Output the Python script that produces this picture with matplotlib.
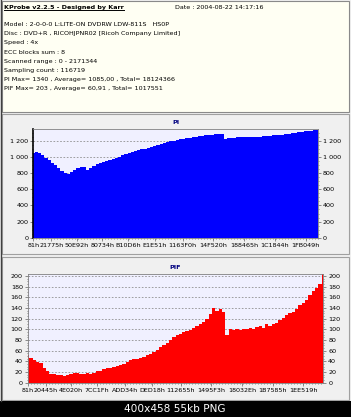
import matplotlib
matplotlib.use('Agg')
import matplotlib.pyplot as plt
import numpy as np
from matplotlib.patches import Rectangle
from matplotlib.ticker import MultipleLocator, AutoMinorLocator, FuncFormatter

# header info
title = "KProbe v2.2.5 - Designed by Karr"
date = "Date : 2004-08-22 14:17:16"
info_lines = [
    "Model : 2-0-0-0 L:LITE-ON DVDRW LDW-811S   HS0P",
    "Disc : DVD+R , RICOHJPNR02 [Ricoh Company Limited]",
    "Speed : 4x",
    "ECC blocks sum : 8",
    "Scanned range : 0 - 2171344",
    "Sampling count : 116719",
    "PI Max= 1340 , Average= 1085,00 , Total= 18124366",
    "PIF Max= 203 , Average= 60,91 , Total= 1017551",
]
scan_end = 2171344

# PI values (sampled along the scan)
pi = [1055, 1060, 1045, 1020, 985, 960, 925, 900, 865, 830,
      800, 790, 815, 840, 860, 875, 880, 840, 870, 895,
      915, 925, 940, 955, 965, 980, 995, 1005, 1020, 1035,
      1050, 1060, 1075, 1085, 1095, 1100, 1110, 1125, 1135, 1150,
      1160, 1175, 1185, 1195, 1205, 1210, 1220, 1230, 1235, 1240,
      1250, 1255, 1260, 1265, 1270, 1275, 1280, 1285, 1290, 1285,
      1225, 1235, 1240, 1238, 1245, 1248, 1250, 1252, 1250, 1248,
      1252, 1255, 1258, 1262, 1265, 1270, 1275, 1278, 1280, 1285,
      1290, 1298, 1305, 1310, 1315, 1320, 1325, 1330, 1335, 1340]

# PIF values
pif = [52, 46, 42, 38, 36, 28, 21, 17, 16, 15,
       14, 13, 15, 17, 18, 19, 16, 17, 18, 17,
       19, 21, 22, 25, 27, 28, 30, 32, 33, 35,
       38, 42, 44, 45, 47, 49, 51, 53, 57, 61,
       66, 70, 74, 80, 85, 90, 92, 95, 96, 98,
       102, 106, 110, 114, 120, 128, 140, 135, 138, 132,
       90, 100, 98, 100, 98, 101, 100, 102, 100, 104,
       106, 103, 110, 106, 110, 112, 118, 122, 126, 130,
       132, 138, 145, 150, 155, 165, 172, 178, 185, 203]

pi_xlabels = ["81h", "21775h", "50E92h", "80734h", "B10D6h", "E1E51h",
              "1163F0h", "14F520h", "188465h", "1C1844h", "1FB049h"]
pif_xlabels = ["81h", "20445h", "4E020h", "7CC1Fh", "ADD34h", "DED18h",
               "112655h", "1495F3h", "18032Eh", "1B7585h", "1EE519h"]

W, H = 351, 417
plt.rcParams['font.family'] = 'DejaVu Sans'
fig = plt.figure(figsize=(W / 100, H / 100), dpi=100, facecolor='#f0f0f0')


def box(l, t, r, b):
    return [l / W, 1 - b / H, (r - l) / W, (b - t) / H]


# background / panels in pixel space
bg = fig.add_axes([0, 0, 1, 1])
bg.set_xlim(0, W)
bg.set_ylim(H, 0)
bg.axis('off')
bg.add_patch(Rectangle((0, 0), W, H, facecolor='#f0f0f0', edgecolor='none'))
bg.add_patch(Rectangle((2, 1), 347, 111, facecolor='#fffff3', edgecolor='#8a8a8a', lw=0.8))
bg.add_patch(Rectangle((2, 114), 347, 140, facecolor='#f0f0f0', edgecolor='#a0a0a0', lw=0.8))
bg.add_patch(Rectangle((2, 257), 347, 143, facecolor='#f0f0f0', edgecolor='#a0a0a0', lw=0.8))
bg.add_patch(Rectangle((0, 401), W, 16, facecolor='black', edgecolor='none'))
bg.plot([0.5, 0.5], [0, 401], color='#404040', lw=1)

fs = 4.6
t = bg.text(4, 7.5, title, fontsize=fs, fontweight='bold', va='center', ha='left')
bg.text(175, 7.5, date, fontsize=fs, va='center', ha='left')
for i, line in enumerate(info_lines):
    bg.text(4, 24.5 + i * 9.2, line, fontsize=fs, va='center', ha='left')
bg.text(175, 409, "400x458 55kb PNG", fontsize=7.6, color='white', va='center', ha='center')


def setup(ax, values, labels, color, ymax, major, fmt, left_color):
    x = np.linspace(0, scan_end, len(values))
    ax.set_facecolor('#f0f0ff')
    ax.fill_between(x, 0, values, step='mid', color=color, lw=0, zorder=2)
    ax.set_xlim(0, scan_end)
    ax.set_ylim(0, ymax)
    ax.yaxis.set_major_locator(MultipleLocator(major))
    ax.yaxis.set_minor_locator(AutoMinorLocator(4))
    ax.yaxis.set_major_formatter(FuncFormatter(fmt))
    ax.set_xticks([int(s[:-1], 16) for s in labels])
    ax.set_xticklabels(labels)
    ax.xaxis.set_minor_locator(AutoMinorLocator(6))
    ax.grid(axis='y', color='#909090', ls=(0, (2, 2)), lw=0.6, zorder=1)
    ax.set_axisbelow(True)
    ax.tick_params(which='both', labelsize=fs, color='#606060', pad=1.5,
                   right=True, labelright=True, length=2, width=0.5)
    ax.tick_params(which='minor', length=1)
    for s in ax.spines.values():
        s.set_color('#808080')
        s.set_linewidth(0.6)
    ax.spines['left'].set_color(left_color)
    ax.spines['left'].set_linewidth(1.2 if left_color == 'black' else 0.6)


ax1 = fig.add_axes(box(33.3, 129.3, 318, 237.7))
setup(ax1, pi, pi_xlabels, '#0000ff', 1345, 200,
      lambda v, p: f"{int(v):,}".replace(',', ' '), 'black')
bg.text(175.5, 122, "PI", fontsize=fs, fontweight='bold', color='#000080', ha='center', va='center')

ax2 = fig.add_axes(box(27.7, 274.3, 323.3, 382.7))
setup(ax2, pif, pif_xlabels, '#ff0000', 203, 20,
      lambda v, p: f"{int(v)}", '#808080')
bg.text(175.5, 267.7, "PIF", fontsize=fs, fontweight='bold', color='#000080', ha='center', va='center')

# underline the title
fig.canvas.draw()
bb = t.get_window_extent().transformed(bg.transData.inverted())
bg.plot([bb.x0, bb.x1], [bb.y0 + 0.3, bb.y0 + 0.3], color='black', lw=0.7)

fig.savefig('out.png', dpi=100, facecolor=fig.get_facecolor())
